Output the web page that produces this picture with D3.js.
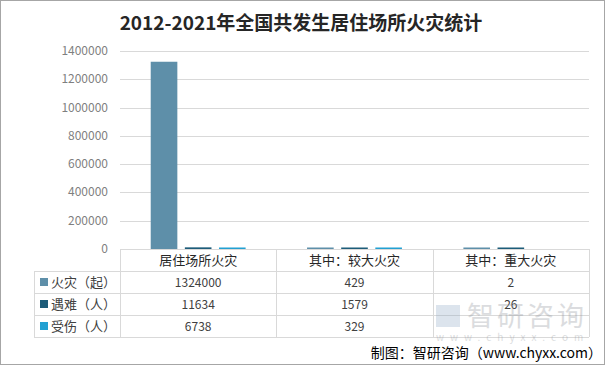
<!DOCTYPE html>
<html>
<head>
<meta charset="utf-8">
<script src="https://cdn.jsdelivr.net/npm/d3@7"></script>
<style>
  body { margin: 0; background: #fff; }
  svg { display: block; font-family: "Noto Sans CJK SC", "Noto Sans", sans-serif; }
</style>
</head>
<body>
<script>
// chart data
const categories = ["居住场所火灾", "其中：较大火灾", "其中：重大火灾"];
const seriesNames = ["火灾（起）", "遇难（人）", "受伤（人）"];
const fires = [1324000, 429, 2];
const deaths = [11634, 1579, 26];
const injuries = [6738, 329, null];
const yTicks = [0, 200000, 400000, 600000, 800000, 1000000, 1200000, 1400000];
const colors = ["#5e8fa9", "#1d5c79", "#22a0d2"];

const width = 605, height = 366;
const margin = {left: 120, right: 16, top: 51, bottom: 116};

const svg = d3.select("body").append("svg")
    .attr("width", width)
    .attr("height", height);

// outer frame
svg.append("rect")
    .attr("x", 0.5).attr("y", 0.5)
    .attr("width", width - 1).attr("height", height - 2)
    .attr("fill", "none")
    .attr("stroke", "#a6a6a6");

svg.append("text")
    .attr("x", 301).attr("y", 30)
    .attr("text-anchor", "middle")
    .style("font-size", "19px")
    .style("font-weight", "bold")
    .style("fill", "#262626")
    .text("2012-2021年全国共发生居住场所火灾统计");

let x = d3.scaleBand()
    .domain(categories)
    .range([margin.left, width - margin.right]);

let y = d3.scaleLinear()
    .domain([0, 1400000])
    .range([height - margin.bottom - 1, margin.top]);

// gridlines + y labels
svg.append("g")
    .selectAll("line")
    .data(yTicks)
    .enter().append("line")
    .attr("x1", margin.left)
    .attr("x2", width - margin.right)
    .attr("y1", d => Math.round(y(d)) + 0.5)
    .attr("y2", d => Math.round(y(d)) + 0.5)
    .style("stroke", "#d9d9d9");

svg.append("g")
    .selectAll("text")
    .data(yTicks)
    .enter().append("text")
    .attr("x", 108)
    .attr("y", d => y(d) + 4)
    .attr("text-anchor", "end")
    .style("font-size", "12px")
    .style("fill", "#7f7f7f")
    .text(d => d);

// bars
let series = [fires, deaths, injuries];
let inner = d3.scaleBand()
    .domain(d3.range(series.length))
    .range([0, x.bandwidth()])
    .paddingInner(0.22)
    .paddingOuter(0.9);

series.forEach(function (vals, si) {
    svg.append("g")
        .selectAll("rect")
        .data(vals.map((v, i) => ({cat: categories[i], v: v})).filter(d => d.v != null))
        .enter().append("rect")
        .attr("x", d => x(d.cat) + inner(si))
        .attr("width", inner.bandwidth())
        .attr("y", d => Math.min(y(d.v), y(0) - 1.5))
        .attr("height", d => Math.max(y(0) - y(d.v), 1.5))
        .style("fill", colors[si]);
});

// data table
const tableLeft = 34;
const rowH = 22;
const headTop = y(0);
const headH = 22;
const tableRight = width - margin.right;
let grid = svg.append("g").style("stroke", "#d9d9d9");

// horizontal lines
grid.append("line").attr("x1", margin.left).attr("x2", tableRight)
    .attr("y1", headTop + 0.5).attr("y2", headTop + 0.5);
for (let r = 0; r <= seriesNames.length; r++) {
    let yy = Math.round(headTop + headH + r * rowH) + 0.5;
    grid.append("line").attr("x1", tableLeft).attr("x2", tableRight)
        .attr("y1", yy).attr("y2", yy);
}
// vertical lines
let tableBottom = headTop + headH + seriesNames.length * rowH;
grid.append("line").attr("x1", tableLeft + 0.5).attr("x2", tableLeft + 0.5)
    .attr("y1", headTop + headH).attr("y2", tableBottom);
categories.forEach(function (c) {
    let xx = Math.round(x(c)) + 0.5;
    grid.append("line").attr("x1", xx).attr("x2", xx)
        .attr("y1", headTop).attr("y2", tableBottom);
});
grid.append("line").attr("x1", tableRight + 0.5).attr("x2", tableRight + 0.5)
    .attr("y1", headTop).attr("y2", tableBottom);

// header
svg.append("g")
    .selectAll("text")
    .data(categories)
    .enter().append("text")
    .attr("x", d => x(d) + x.bandwidth() / 2)
    .attr("y", headTop + 16)
    .attr("text-anchor", "middle")
    .style("font-size", "13px")
    .style("fill", "#262626")
    .text(d => d);

// rows
seriesNames.forEach(function (name, si) {
    let top = headTop + headH + si * rowH;
    svg.append("rect")
        .attr("x", 40).attr("y", top + 7)
        .attr("width", 8).attr("height", 8)
        .style("fill", colors[si]);
    svg.append("text")
        .attr("x", 51).attr("y", top + 16)
        .style("font-size", "13px")
        .style("fill", "#404040")
        .text(name);
    svg.append("g")
        .selectAll("text")
        .data(series[si])
        .enter().append("text")
        .attr("x", (d, i) => x(categories[i]) + x.bandwidth() / 2)
        .attr("y", top + 16)
        .attr("text-anchor", "middle")
        .style("font-size", "12px")
        .style("fill", "#404040")
        .text(d => d == null ? "" : d);
});

// watermark
let wm = svg.append("g").style("opacity", 0.3);
wm.append("rect").attr("x", 436).attr("y", 305).attr("width", 24).attr("height", 22)
    .style("fill", "#8fa9c4");
wm.append("text").attr("x", 467).attr("y", 326)
    .style("font-size", "27px").style("fill", "#8a8f96")
    .style("letter-spacing", "3px")
    .text("智研咨询");
wm.append("text").attr("x", 436).attr("y", 341)
    .style("font-size", "10px").style("fill", "#8a8f96")
    .style("letter-spacing", "6px")
    .text("www.chyxx.com");

// credit
svg.append("text")
    .attr("x", 602).attr("y", 358)
    .attr("text-anchor", "end")
    .style("font-size", "14px")
    .style("fill", "#000")
    .text("制图：智研咨询（www.chyxx.com）");
</script>
</body>
</html>
